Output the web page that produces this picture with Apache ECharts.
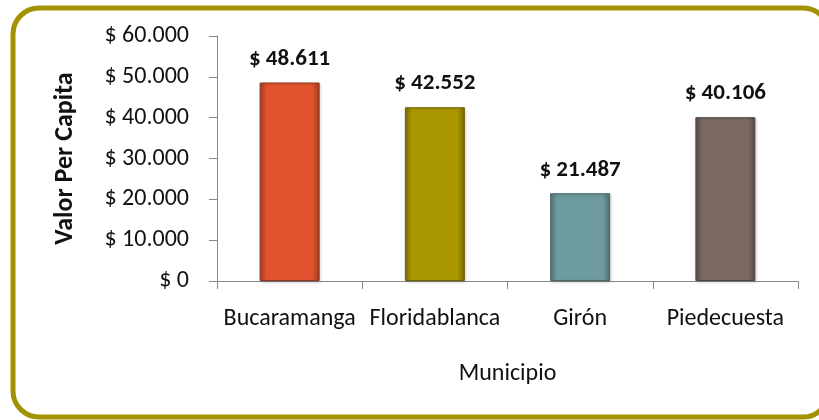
<!DOCTYPE html>
<html>
<head>
<meta charset="utf-8">
<script src="https://cdn.jsdelivr.net/npm/echarts@6/dist/echarts.min.js"></script>
<style>
  html, body { margin: 0; padding: 0; background: #fff; }
  #chart { width: 819px; height: 420px; }
</style>
</head>
<body>
<div id="chart"></div>
<script>
// data
const municipios = ["Bucaramanga", "Floridablanca", "Girón", "Piedecuesta"];
const valores = [48611, 42552, 21487, 40106];
const colores = ["#e0532e", "#ab9700", "#6e9b9f", "#7a6a62"];
const yTicks = [0, 10000, 20000, 30000, 40000, 50000, 60000];

const FONT = 'Carlito, "DejaVu Sans Condensed", "Liberation Sans", sans-serif';

function fmt(v) {
  // 48611 -> "$ 48.611"
  return "$ " + String(v).replace(/\B(?=(\d{3})+(?!\d))/g, ".");
}

function shade(hex, f) {
  let n = parseInt(hex.slice(1), 16);
  let r = (n >> 16) & 255, g = (n >> 8) & 255, b = n & 255;
  let t = f < 0 ? 0 : 255, p = Math.abs(f);
  r = Math.round((t - r) * p + r);
  g = Math.round((t - g) * p + g);
  b = Math.round((t - b) * p + b);
  return "rgb(" + r + "," + g + "," + b + ")";
}

let barData = valores.map((v, i) => ({
  value: v,
  itemStyle: {
    color: new echarts.graphic.LinearGradient(0, 0, 1, 0, [
      { offset: 0, color: shade(colores[i], -0.25) },
      { offset: 0.12, color: colores[i] },
      { offset: 0.88, color: colores[i] },
      { offset: 1, color: shade(colores[i], -0.3) },
    ]),
    borderColor: shade(colores[i], -0.35),
    borderWidth: 1,
    shadowColor: "rgba(0,0,0,0.2)",
    shadowBlur: 3,
    shadowOffsetX: 1,
    shadowOffsetY: 1,
  },
}));

let myChart = echarts.init(document.getElementById("chart"));
let option = {
  animation: false,
  graphic: [
    {
      type: "rect",
      shape: { x: 13, y: 8, width: 816, height: 409, r: 26 },
      style: { fill: "none", stroke: "#a39300", lineWidth: 5 },
      z: -1,
    },
  ],
  grid: { left: 217, right: 21, top: 36, bottom: 139 },
  xAxis: {
    type: "category",
    data: municipios,
    name: "Municipio",
    nameLocation: "middle",
    nameGap: 81,
    nameTextStyle: { fontFamily: FONT, fontSize: 24, color: "#111" },
    axisLine: { lineStyle: { color: "#888", width: 1 } },
    axisTick: { show: true, length: 8, lineStyle: { color: "#888" } },
    axisLabel: {
      fontFamily: FONT,
      fontSize: 24,
      color: "#111",
      margin: 26,
      interval: 0,
      hideOverlap: false,
    },
  },
  yAxis: {
    type: "value",
    min: 0,
    max: 60000,
    interval: 10000,
    name: "Valor Per Capita",
    nameLocation: "middle",
    nameGap: 139,
    nameTextStyle: { fontFamily: FONT, fontSize: 26, fontWeight: "bold", color: "#111" },
    splitLine: { show: false },
    axisLine: { show: true, lineStyle: { color: "#888", width: 1 } },
    axisTick: { show: true, length: 8, lineStyle: { color: "#888" } },
    axisLabel: {
      fontFamily: FONT,
      fontSize: 24,
      color: "#111",
      margin: 28,
      formatter: (v) => (yTicks.indexOf(v) >= 0 ? fmt(v) : ""),
    },
  },
  series: [
    {
      type: "bar",
      data: barData,
      barWidth: 60,
      label: {
        show: true,
        position: "top",
        distance: 12,
        fontFamily: FONT,
        fontSize: 23,
        fontWeight: "bold",
        color: "#111",
        formatter: (p) => fmt(p.value),
      },
    },
  ],
};
myChart.setOption(option);
</script>
</body>
</html>
